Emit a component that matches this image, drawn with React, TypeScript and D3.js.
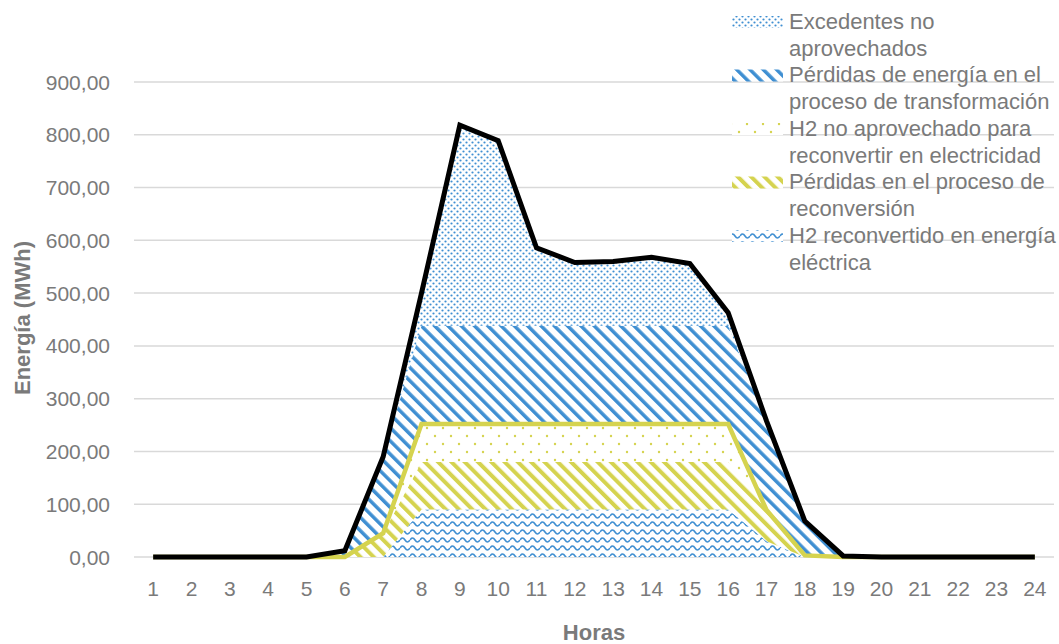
import React from "react";
import * as d3 from "d3";

const hours = d3.range(1, 25);
// stacked series, bottom to top (MWh)
const h2Reconvertido = [0, 0, 0, 0, 0, 0, 0, 90, 90, 90, 90, 90, 90, 90, 90, 90, 30, 0, 0, 0, 0, 0, 0, 0];
const perdidasReconversion = [0, 0, 0, 0, 0, 0, 45, 90, 90, 90, 90, 90, 90, 90, 90, 90, 59, 3, 0, 0, 0, 0, 0, 0];
const h2NoAprovechado = [0, 0, 0, 0, 0, 0, 0, 72, 72, 72, 72, 72, 72, 72, 72, 72, 0, 0, 0, 0, 0, 0, 0, 0];
const perdidasTransformacion = [0, 0, 0, 0, 0, 12, 145, 186, 186, 186, 186, 186, 186, 186, 186, 186, 169, 65, 2, 0, 0, 0, 0, 0];
const excedentes = [0, 0, 0, 0, 0, 0, 0, 62, 380, 351, 148, 120, 122, 130, 118, 25, 0, 0, 0, 0, 0, 0, 0, 0];

const yTicks = d3.range(0, 901, 100);

const legendItems = [
  { key: "exc", lines: ["Excedentes no", "aprovechados"] },
  { key: "ptr", lines: ["Pérdidas de energía en el", "proceso de transformación"] },
  { key: "h2n", lines: ["H2 no aprovechado para", "reconvertir en electricidad"] },
  { key: "prc", lines: ["Pérdidas en el proceso de", "reconversión"] },
  { key: "h2r", lines: ["H2 reconvertido en energía", "eléctrica"] },
];

const BLUE = "#3F8FD2";
const YEL = "#D5D34F";
const TXT = "#7a7a7a";

export default function App() {
  const W = 1059, H = 644;
  const left = 134, right = 1054, top = 82, bottom = 557;
  const bw = (right - left) / hours.length;
  const x = d3.scalePoint<number>().domain(hours).range([left + bw / 2, right - bw / 2]);
  const y = d3.scaleLinear().domain([0, 900]).range([bottom, top]);

  const keys = ["h2r", "prc", "h2n", "ptr", "exc"];
  const table = hours.map((h, i) => ({
    hour: h,
    h2r: h2Reconvertido[i],
    prc: perdidasReconversion[i],
    h2n: h2NoAprovechado[i],
    ptr: perdidasTransformacion[i],
    exc: excedentes[i],
  }));
  const stacked = d3.stack<any>().keys(keys)(table);
  const area = d3
    .area<any>()
    .x((d) => x(d.data.hour)!)
    .y0((d) => y(d[0]))
    .y1((d) => y(d[1]));
  const line = d3
    .line<any>()
    .x((d) => x(d.data.hour)!)
    .y((d) => y(d[1]));

  const fills: Record<string, string> = {
    h2r: "url(#pWave)",
    prc: "url(#pYStripe)",
    h2n: "url(#pYDots)",
    ptr: "url(#pBStripe)",
    exc: "url(#pBDots)",
  };

  const ff = "'Liberation Sans', Arial, sans-serif";

  return (
    <svg width={W} height={H} style={{ position: "absolute", left: 0, top: 0 }} fontFamily={ff}>
      <defs>
        <pattern id="pBDots" patternUnits="userSpaceOnUse" width={6} height={6}>
          <rect width={6} height={6} fill="#fff" />
          <circle cx={1.5} cy={1.5} r={1.1} fill={BLUE} />
          <circle cx={4.5} cy={4.5} r={1.1} fill={BLUE} />
        </pattern>
        <pattern id="pBStripe" patternUnits="userSpaceOnUse" width={9.4} height={9.4} patternTransform="rotate(-45)">
          <rect width={9.4} height={9.4} fill="#fff" />
          <rect x={0} y={0} width={3.5} height={9.4} fill={BLUE} />
        </pattern>
        <pattern id="pYStripe" patternUnits="userSpaceOnUse" width={9.4} height={9.4} patternTransform="rotate(-45)">
          <rect width={9.4} height={9.4} fill="#fff" />
          <rect x={0} y={0} width={4} height={9.4} fill={YEL} />
        </pattern>
        <pattern id="pYDots" patternUnits="userSpaceOnUse" width={16} height={16}>
          <rect width={16} height={16} fill="#fff" />
          <circle cx={3} cy={4} r={1.2} fill={YEL} />
          <circle cx={11} cy={12} r={1.2} fill={YEL} />
        </pattern>
        <pattern id="pWave" patternUnits="userSpaceOnUse" width={10} height={8}>
          <rect width={10} height={8} fill="#fff" />
          <path d="M0,4 Q2.5,0 5,4 T10,4" fill="none" stroke={BLUE} strokeWidth={1.6} />
        </pattern>
      </defs>

      {/* gridlines */}
      {yTicks.map((t) => (
        <line key={t} x1={left} x2={right} y1={y(t)} y2={y(t)} stroke="#d9d9d9" strokeWidth={1.5} />
      ))}

      {/* y tick labels */}
      {yTicks.map((t) => (
        <text key={t} x={110} y={y(t)} dy="0.36em" textAnchor="end" fontSize={21} fill={TXT}>
          {d3.format(".2f")(t).replace(".", ",")}
        </text>
      ))}

      {/* x tick labels */}
      {hours.map((h) => (
        <text key={h} x={x(h)} y={588} dy="0.36em" textAnchor="middle" fontSize={21} fill={TXT}>
          {h}
        </text>
      ))}

      {/* areas */}
      {stacked.map((s) => (
        <path key={s.key} d={area(s) || ""} fill={fills[s.key]} stroke="none" />
      ))}

      {/* yellow outline (top of H2 series) */}
      <path d={line(stacked[2]) || ""} fill="none" stroke={YEL} strokeWidth={4.5} strokeLinejoin="miter" />
      {/* black total */}
      <path d={line(stacked[4]) || ""} fill="none" stroke="#000" strokeWidth={5} strokeLinejoin="miter" />

      {/* axis titles */}
      <text x={594} y={632} dy="0.36em" textAnchor="middle" fontSize={22} fontWeight="bold" fill={TXT}>
        Horas
      </text>
      <text
        transform={`translate(22,${318}) rotate(-90)`}
        textAnchor="middle"
        dy="0.36em"
        fontSize={22}
        fontWeight="bold"
        fill={TXT}
      >
        Energía (MWh)
      </text>

      {/* legend */}
      {legendItems.map((it, i) => {
        const cy = 21 + i * 53.5;
        return (
          <g key={it.key}>
            <rect x={732} y={cy - 5} width={51} height={12} fill={fills[it.key]} />
            {it.lines.map((ln, j) => (
              <text key={j} x={789} y={cy + j * 26.7} dy="0.36em" fontSize={22} fill={TXT}>
                {ln}
              </text>
            ))}
          </g>
        );
      })}
    </svg>
  );
}
